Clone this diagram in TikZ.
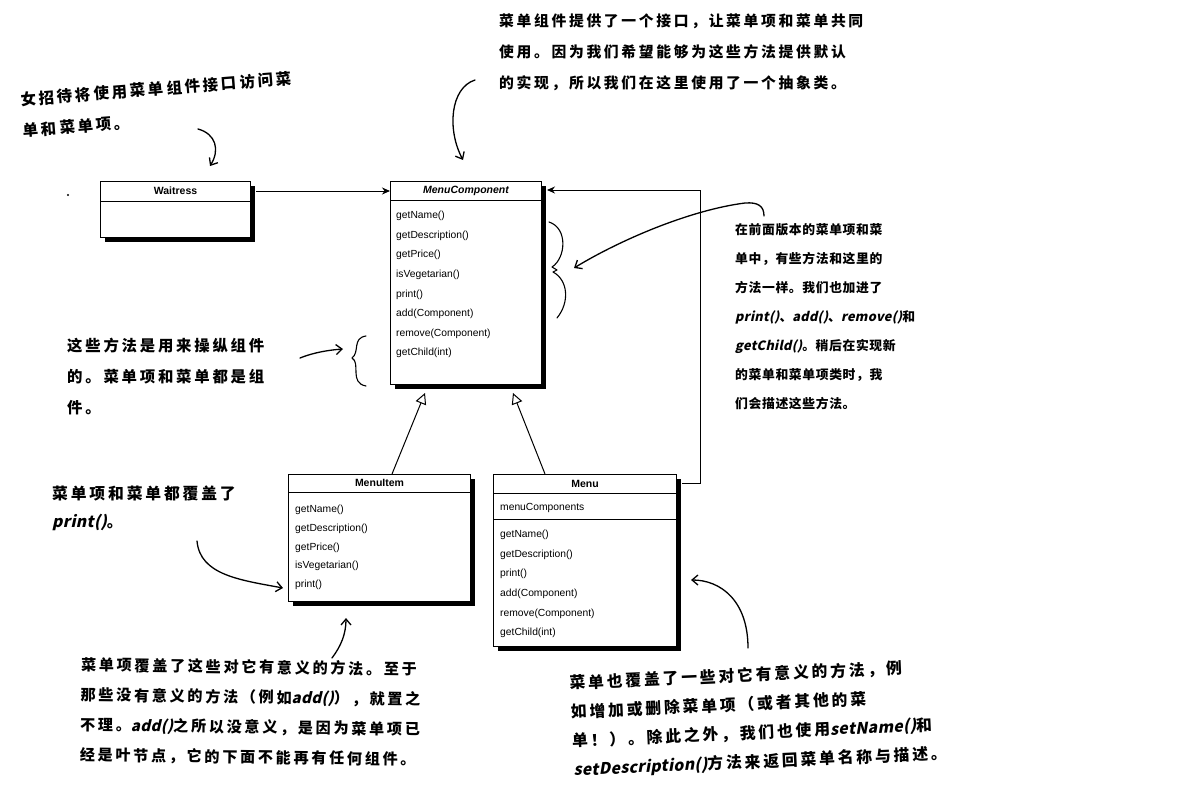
\documentclass[tikz,border=0pt]{standalone}
\usepackage{fontspec}
\setmainfont{Liberation Sans}
\newfontfamily\hand[LetterSpace=18]{Noto Sans CJK SC}
\usetikzlibrary{arrows.meta,calc,shadows}
% handwritten code names: slanted, without the wide CJK tracking
\newcommand\slant[1]{{\addfontfeature{FakeSlant=0.22,LetterSpace=2}#1}}

\tikzset{
  cls/.style={draw=black, line width=1pt, fill=white, anchor=north west, inner sep=0pt,
    drop shadow={shadow xshift=4.5pt, shadow yshift=-4.5pt, opacity=1, fill=black}},
  ttl/.style={font=\bfseries\fontsize{10.5}{12}\selectfont, inner sep=0pt},
  mth/.style={font=\fontsize{10.3}{12}\selectfont, anchor=west, inner sep=0pt},
  note/.style={font=\hand\bfseries\fontsize{15}{31}\selectfont, align=left, anchor=north west, inner sep=0pt},
  pen/.style={line width=1.3pt, line cap=round, line join=round,
    -{Straight Barb[length=6pt,width=10pt,line width=1.3pt]}},
  brace/.style={line width=1.1pt, line cap=round, line join=round},
  assoc/.style={line width=1pt, -{Stealth[length=8pt,width=7pt]}},
  inherit/.style={line width=1pt, -{Triangle[open,length=11pt,width=11pt,fill=white]}},
  rule/.style={line width=1pt},
}

\begin{document}
\begin{tikzpicture}[x=1pt,y=-1pt]
\useasboundingbox (0,0) rectangle (1178,800);

% ---------- class boxes ----------
\node[cls, minimum width=150pt, minimum height=56pt] (waitress) at (100,181) {};
\draw[rule] ($(waitress.north west)+(0,20)$) -- ($(waitress.north east)+(0,20)$);
\node[ttl] (waitressT) at ($(waitress.north)+(0,10)$) {Waitress};

\node[cls, minimum width=151pt, minimum height=203pt] (mc) at (390,181) {};
\draw[rule] ($(mc.north west)+(0,19)$) -- ($(mc.north east)+(0,19)$);
\node[ttl] (mcT) at ($(mc.north)+(0,9.5)$) {\itshape MenuComponent};
\foreach \t [count=\i] in {getName(),getDescription(),getPrice(),isVegetarian(),print(),add(Component),remove(Component),getChild(int)}
  \node[mth] (mc-\i) at ($(mc.north west)+(6,{35+(\i-1)*19.6})$) {\t};

\node[cls, minimum width=182pt, minimum height=127pt] (item) at (288,474) {};
\draw[rule] ($(item.north west)+(0,18)$) -- ($(item.north east)+(0,18)$);
\node[ttl] (itemT) at ($(item.north)+(0,9)$) {MenuItem};
\foreach \t [count=\i] in {getName(),getDescription(),getPrice(),isVegetarian(),print()}
  \node[mth] (item-\i) at ($(item.north west)+(7,{36+(\i-1)*18.7})$) {\t};

\node[cls, minimum width=183pt, minimum height=172pt] (menu) at (493,474) {};
\draw[rule] ($(menu.north west)+(0,19)$) -- ($(menu.north east)+(0,19)$);
\draw[rule] ($(menu.north west)+(0,45)$) -- ($(menu.north east)+(0,45)$);
\node[ttl] (menuT) at ($(menu.north)+(0,9.5)$) {Menu};
\node[mth] (menuA) at ($(menu.north west)+(7,34)$) {menuComponents};
\foreach \t [count=\i] in {getName(),getDescription(),print(),add(Component),remove(Component),getChild(int)}
  \node[mth] (menu-\i) at ($(menu.north west)+(7,{61+(\i-1)*19.6})$) {\t};

% ---------- relations ----------
\draw[assoc] ($(waitress.north east)+(5,10)$) -- ($(mc.north west)+(0,10)$);
\coordinate (turn) at (700,483);
\draw[assoc, line join=miter] ($(menu.north east)+(5,9)$) -- (turn) |- ($(mc.north east)+(5,9)$);
\draw[inherit] ($(item.north west)+(104,0)$) -- ($(mc.south west)+(35,8)$);
\draw[inherit] ($(menu.north west)+(52,0)$) -- ($(mc.south west)+(123,8)$);

% ---------- notes ----------
\node[note, rotate=4.5, font=\hand\bfseries\fontsize{15.5}{31}\selectfont] (n1) at (20,92)
  {女招待将使用菜单组件接口访问菜\\单和菜单项。};
\node[note, font=\hand\bfseries\fontsize{14.8}{31}\selectfont] (n2) at (499,14)
  {菜单组件提供了一个接口，让菜单项和菜单共同\\使用。因为我们希望能够为这些方法提供默认\\的实现，所以我们在这里使用了一个抽象类。};
\node[note, font=\hand\bfseries\fontsize{12.8}{29}\selectfont\addfontfeature{LetterSpace=5}] (n3) at (735,223)
  {在前面版本的菜单项和菜\\单中，有些方法和这里的\\方法一样。我们也加进了\\\slant{print()}、\slant{add()}、\slant{remove()}和\\\slant{getChild()}。稍后在实现新\\的菜单和菜单项类时，我\\们会描述这些方法。};
\node[note, font=\hand\bfseries\fontsize{15.4}{31}\selectfont] (n4) at (67,338)
  {这些方法是用来操纵组件\\的。菜单项和菜单都是组\\件。};
\node[note, font=\hand\bfseries\fontsize{15.8}{28}\selectfont] (n5) at (52,486)
  {菜单项和菜单都覆盖了\\\slant{print()}。};
\node[note, rotate=-0.8, font=\hand\bfseries\fontsize{15.1}{30}\selectfont] (n6) at (81,657)
  {菜单项覆盖了这些对它有意义的方法。至于\\那些没有意义的方法（例如\slant{add()}），就置之\\不理。\slant{add()}之所以没意义，是因为菜单项已\\经是叶节点，它的下面不能再有任何组件。};
\node[note, rotate=2.6, font=\hand\bfseries\fontsize{15.8}{29}\selectfont] (n7) at (569,675)
  {菜单也覆盖了一些对它有意义的方法，例\\如增加或删除菜单项（或者其他的菜\\单！）。除此之外，我们也使用\slant{setName()}和\\\slant{setDescription()}方法来返回菜单名称与描述。};

% ---------- pen strokes ----------
\fill (68,195) circle (1.2);
\draw[pen] (198,129) .. controls (216,134) and (220,150) .. (210,166);
\draw[pen] (475,80) .. controls (450,88) and (447,130) .. (463,160);
\draw[pen] (764,216) .. controls (764,206) and (758,202) .. (745,203)
           .. controls (690,210) and (620,240) .. (574,268);
\draw[pen] (300,358) .. controls (315,352) and (330,350) .. (343,349);
\draw[pen] (197,541) .. controls (200,575) and (240,580) .. (283,588);
\draw[pen] (332,658) .. controls (341,646) and (346,634) .. (346,618);
\draw[pen] (748,648) .. controls (748,600) and (720,580) .. (691,580);

% braces beside the method lists
\draw[brace] (549,222) .. controls (568,228) and (566,258) .. (552,267)
             -- (557,270) -- (553,272) .. controls (568,280) and (570,302) .. (557,318);
\draw[brace] (366,336) .. controls (352,338) and (360,352) .. (352,358)
             .. controls (361,363) and (349,383) .. (366,386);
\end{tikzpicture}
\end{document}
